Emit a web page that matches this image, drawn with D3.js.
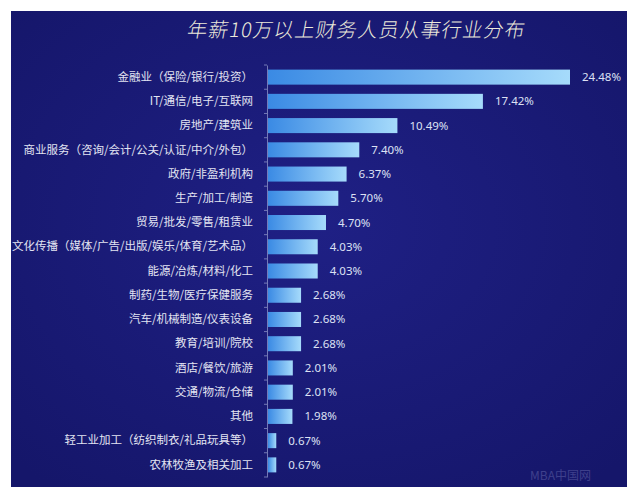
<!DOCTYPE html>
<html lang="zh">
<head>
<meta charset="UTF-8">
<title>年薪10万以上财务人员从事行业分布</title>
<script src="https://d3js.org/d3.v7.min.js"></script>
<style>
  body { margin: 0; background: #fff; }
  svg { display: block; }
</style>
</head>
<body>
<div id="chart"></div>
<script>
// industries, top to bottom
const categories = [
  "金融业（保险/银行/投资）",
  "IT/通信/电子/互联网",
  "房地产/建筑业",
  "商业服务（咨询/会计/公关/认证/中介/外包）",
  "政府/非盈利机构",
  "生产/加工/制造",
  "贸易/批发/零售/租赁业",
  "文化传播（媒体/广告/出版/娱乐/体育/艺术品）",
  "能源/冶炼/材料/化工",
  "制药/生物/医疗保健服务",
  "汽车/机械制造/仪表设备",
  "教育/培训/院校",
  "酒店/餐饮/旅游",
  "交通/物流/仓储",
  "其他",
  "轻工业加工（纺织制衣/礼品玩具等）",
  "农林牧渔及相关加工"
];
// share in percent
const values = [24.48, 17.42, 10.49, 7.40, 6.37, 5.70, 4.70, 4.03, 4.03,
                2.68, 2.68, 2.68, 2.01, 2.01, 1.98, 0.67, 0.67];
const title = "年薪10万以上财务人员从事行业分布";

const width = 640, height = 496;
const svg = d3.select("#chart").append("svg")
  .attr("width", width).attr("height", height);

const defs = svg.append("defs");
const bg = defs.append("radialGradient").attr("id", "bg")
  .attr("cx", "50%").attr("cy", "45%").attr("r", "70%");
bg.append("stop").attr("offset", "0%").attr("stop-color", "#1f2085");
bg.append("stop").attr("offset", "100%").attr("stop-color", "#15166a");

const barGrad = defs.append("linearGradient").attr("id", "bar")
  .attr("x1", "0%").attr("x2", "100%");
barGrad.append("stop").attr("offset", "0%").attr("stop-color", "#3a8ae4");
barGrad.append("stop").attr("offset", "100%").attr("stop-color", "#a6dbfb");

// dark panel
svg.append("rect")
  .attr("x", 11).attr("y", 11).attr("width", 616).attr("height", 476)
  .attr("fill", "url(#bg)");

// title
svg.append("text")
  .attr("x", 356).attr("y", 37)
  .attr("text-anchor", "middle")
  .attr("fill", "#ece9da")
  .attr("font-family", "'Noto Sans CJK SC', sans-serif")
  .attr("font-weight", 300)
  .attr("font-size", 20)
  .attr("letter-spacing", 1)
  .attr("transform", "skewX(-10) translate(6,0)")
  .text(title);

const x = d3.scaleLinear().domain([0, 24.48]).range([268, 570]);
const y = d3.scaleBand().domain(categories).range([65, 477])
  .paddingInner(0.38).paddingOuter(0.19);

// bars
svg.append("g").selectAll("rect")
  .data(categories)
  .join("rect")
  .attr("x", x(0))
  .attr("y", d => y(d))
  .attr("width", (d, i) => x(values[i]) - x(0))
  .attr("height", y.bandwidth())
  .attr("fill", "url(#bar)");

// value labels
svg.append("g").selectAll("text")
  .data(categories)
  .join("text")
  .attr("x", (d, i) => x(values[i]) + 12)
  .attr("y", d => y(d) + y.bandwidth() / 2)
  .attr("dy", "0.35em")
  .attr("fill", "#dde1f4")
  .attr("font-family", "'Noto Sans', sans-serif")
  .attr("font-size", 11.5)
  .text((d, i) => values[i].toFixed(2) + "%");

// category axis
const axis = svg.append("g")
  .attr("transform", `translate(${x(0) - 1},0)`)
  .call(d3.axisLeft(y).tickSize(0).tickPadding(14));
axis.select(".domain").attr("stroke", "#8c92c6").attr("stroke-width", 0.8);
axis.selectAll("text")
  .attr("fill", "#e2e4f2")
  .attr("font-family", "'Noto Sans CJK SC', sans-serif")
  .attr("font-size", 11.5);

// boundary ticks between bands
const half = y.step() * y.paddingInner() / 2;
const bounds = [y(categories[0]) - half].concat(categories.map(c => y(c) + y.bandwidth() + half));
axis.append("g").selectAll("line")
  .data(bounds)
  .join("line")
  .attr("x1", -3).attr("x2", 0)
  .attr("y1", d => d).attr("y2", d => d)
  .attr("stroke", "#8c92c6").attr("stroke-width", 0.8);

// watermark
svg.append("text")
  .attr("x", 530).attr("y", 480)
  .attr("fill", "#8a8cc8").attr("opacity", 0.35)
  .attr("font-family", "'Noto Sans CJK SC', sans-serif")
  .attr("font-size", 12)
  .text("MBA中国网");
</script>
</body>
</html>
